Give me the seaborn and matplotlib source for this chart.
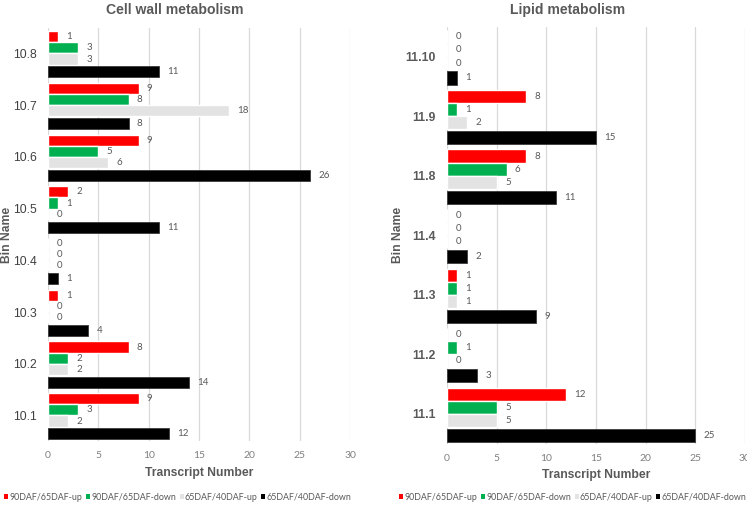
import pandas as pd
import seaborn as sns
import matplotlib.pyplot as plt
from matplotlib.patches import Patch

# series names and colours
series = ["90DAF/65DAF-up", "90DAF/65DAF-down", "65DAF/40DAF-up", "65DAF/40DAF-down"]
colors = ["#FF0000", "#00B050", "#E3E3E3", "#000000"]

# Cell wall metabolism
cw_bins = ["10.8", "10.7", "10.6", "10.5", "10.4", "10.3", "10.2", "10.1"]
cw_up90 = [1, 9, 9, 2, 0, 1, 8, 9]
cw_down90 = [3, 8, 5, 1, 0, 0, 2, 3]
cw_up65 = [3, 18, 6, 0, 0, 0, 2, 2]
cw_down65 = [11, 8, 26, 11, 1, 4, 14, 12]

# Lipid metabolism
lp_bins = ["11.10", "11.9", "11.8", "11.4", "11.3", "11.2", "11.1"]
lp_up90 = [0, 8, 8, 0, 1, 0, 12]
lp_down90 = [0, 1, 6, 0, 1, 1, 5]
lp_up65 = [0, 2, 5, 0, 1, 0, 5]
lp_down65 = [1, 15, 11, 2, 9, 3, 25]


def long_df(bins, *cols):
    rows = []
    for name, vals in zip(series, cols):
        for b, v in zip(bins, vals):
            rows.append({"bin": b, "count": v, "series": name})
    return pd.DataFrame(rows)


sns.set_style("white")
plt.rcParams["font.family"] = ["Liberation Sans", "DejaVu Sans"]

fig = plt.figure(figsize=(7.47, 5.08), dpi=100)
ax1 = fig.add_axes([0.0643, 0.1313, 0.4043, 0.8144])
ax2 = fig.add_axes([0.5984, 0.1264, 0.3989, 0.8210])

grey = "#595959"


def draw(ax, df, width, gap, bold_ticks, ylabel_x):
    sns.barplot(data=df, y="bin", x="count", hue="series", orient="h",
                palette=colors, saturation=1, width=width, ax=ax,
                legend=False, errorbar=None)
    # small gap before the black bar, like the original
    for p in ax.containers[3]:
        p.set_y(p.get_y() + gap)
        p.set_edgecolor("#3a3a3a")
        p.set_linewidth(0.6)
    for c in ax.containers:
        ax.bar_label(c, padding=6, fontsize=7, color=grey, family="Lato")
    ax.set_xlim(0, 30)
    ax.set_xticks(range(0, 31, 5))
    ax.grid(axis="x", color="#D9D9D9", linewidth=0.9)
    ax.set_axisbelow(True)
    sns.despine(ax=ax, left=True, bottom=True)
    ax.tick_params(axis="x", length=0, pad=7, labelsize=7.5, labelcolor="#808080")
    ax.tick_params(axis="y", length=0, pad=8, labelsize=8.8,
                   labelcolor="#404040")
    for t in ax.get_xticklabels():
        t.set_family("Lato")
    for t in ax.get_yticklabels():
        if bold_ticks:
            t.set_fontweight("bold")
            t.set_color(grey)
    ax.set_xlabel("Transcript Number", fontsize=8.7, fontweight="bold",
                  color=grey, labelpad=5)
    ax.set_ylabel("Bin Name", fontsize=8.7, fontweight="bold", color=grey)
    ax.yaxis.set_label_coords(ylabel_x, 0.5)


draw(ax1, long_df(cw_bins, cw_up90, cw_down90, cw_up65, cw_down65),
     0.86, 0.035, False, -0.117)
draw(ax2, long_df(lp_bins, lp_up90, lp_down90, lp_up65, lp_down65),
     0.88, 0.03, True, -0.144)

fig.text(175 / 747, 1 - 10 / 508, "Cell wall metabolism", ha="center", va="center",
         fontsize=10.1, fontweight="bold", color=grey)
fig.text(568 / 747, 1 - 10 / 508, "Lipid metabolism", ha="center", va="center",
         fontsize=10.1, fontweight="bold", color=grey)

handles = [Patch(facecolor=c, edgecolor="none") for c in colors]
for x0 in (4 / 747, 399 / 747):
    fig.legend(handles, series, loc="center left", bbox_to_anchor=(x0, 1 - 497 / 508),
               ncol=4, frameon=False, labelcolor=grey,
               handlelength=0.45, handleheight=0.45, handletextpad=0.15,
               columnspacing=0.4, borderaxespad=0, borderpad=0,
               prop={"family": "Lato", "size": 6.4})

fig.savefig("out.png", dpi=100)
